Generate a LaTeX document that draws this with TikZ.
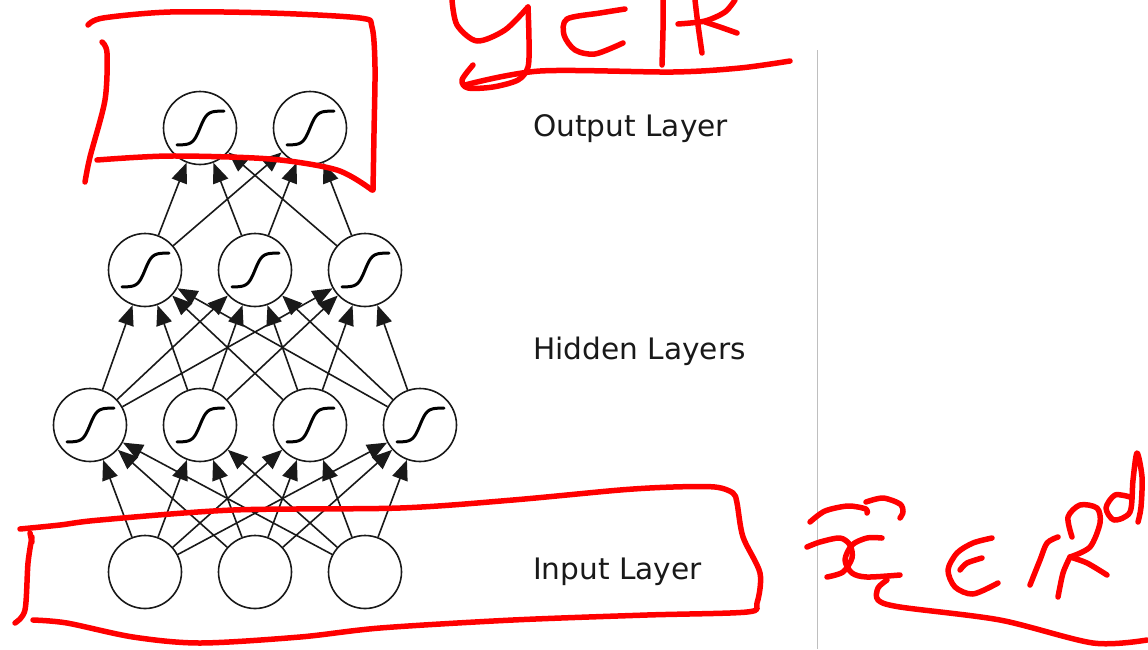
\documentclass[tikz,border=0pt]{standalone}
\usepackage{fontspec}
\setmainfont{DejaVu Sans}
\usetikzlibrary{arrows.meta}

\begin{document}
\begin{tikzpicture}[x=1pt, y=-1pt]
  \tikzstyle{neuron} = [circle, draw=black!90, line width=1.6pt, fill=white,
    minimum size=73pt, inner sep=0pt]
  \tikzstyle{conn} = [draw=black!90, line width=1.6pt, -{Triangle[length=20pt, width=16pt]}]
  \tikzstyle{sig} = [draw=black, line width=3pt, line cap=round]
  \tikzstyle{layer} = [anchor=west, inner sep=0pt, text=black!90,
    font=\fontsize{29.6}{34}\selectfont]
  \tikzstyle{ink} = [draw=red, line width=5.5pt, line cap=round, line join=round]

  \useasboundingbox (0,0) rectangle (1148,649);

  % Capa de entrada
  \foreach \i in {1,2,3}
    \node[neuron] (in\i) at (35+\i*110, 572) {};

  % Primera capa oculta
  \foreach \i in {1,...,4}
    \node[neuron] (ha\i) at (-20+\i*110, 425) {};

  % Segunda capa oculta
  \foreach \i in {1,2,3}
    \node[neuron] (hb\i) at (35+\i*110, 270) {};

  % Capa de salida
  \foreach \i in {1,2}
    \node[neuron] (out\i) at (90+\i*110, 128) {};

  % Conexiones
  \foreach \i in {1,2,3}
    \foreach \j in {1,...,4}
      \draw[conn] (in\i) -- (ha\j);
  \foreach \i in {1,...,4}
    \foreach \j in {1,2,3}
      \draw[conn] (ha\i) -- (hb\j);
  \foreach \i in {1,2,3}
    \foreach \j in {1,2}
      \draw[conn] (hb\i) -- (out\j);

  % Sigmoides
  \foreach \n in {ha1,ha2,ha3,ha4,hb1,hb2,hb3,out1,out2}
    \draw[sig, shift={(\n)}] plot[domain=-23:24, samples=40] (\x, {-17*tanh(\x/7)});

  % Etiquetas
  \node[layer] (lout) at (533,129) {Output Layer};
  \node[layer] (lhid) at (533,351) {Hidden Layers};
  \node[layer] (lin) at (533,572) {Input Layer};

  % Separador
  \draw[black!25, line width=1pt] (817,50) -- (817,649);

  % Anotaciones: caja de salida
  \draw[ink] plot[smooth] coordinates {(88,25) (103,18) (170,12) (270,13) (360,18) (372,27) (375,67) (374,133) (373,190)};
  \draw[ink] plot[smooth] coordinates {(102,42) (107,53) (105,100) (90,157) (85,182)};
  \draw[ink] plot[smooth] coordinates {(97,160) (170,156) (270,159) (337,170) (372,190)};

  % y en R
  \draw[ink] plot[smooth] coordinates {(452,0) (457,25) (477,41) (505,30) (528,7)};
  \draw[ink] plot[smooth] coordinates {(528,7) (529,40) (528,67) (518,80) (493,87) (468,88) (462,80) (473,65)};
  \draw[ink] plot[smooth] coordinates {(465,85) (540,71) (673,72) (740,68) (790,61)};
  \draw[ink] plot[smooth] coordinates {(625,9) (600,13) (567,19) (564,35) (575,50) (595,54) (623,43)};
  \draw[ink] plot[smooth] coordinates {(663,0) (663,30) (662,65)};
  \draw[ink] plot[smooth] coordinates {(695,0) (698,25) (702,53)};
  \draw[ink] plot[smooth] coordinates {(678,24) (705,21) (725,12) (735,0)};
  \draw[ink] plot[smooth] coordinates {(705,22) (720,27) (737,33)};

  % Anotaciones: caja de entrada
  \draw[ink] plot[smooth] coordinates {(30,533) (32,542)};
  \draw[ink] plot[smooth] coordinates {(32,537) (28,563) (25,610) (15,623)};
  \draw[ink] plot[smooth] coordinates {(20,529) (60,525) (100,520) (233,510) (400,508) (513,500) (620,490) (673,487) (715,487) (733,493) (737,503) (743,537) (760,573) (757,603) (747,612) (647,615) (513,620) (380,628) (300,637) (200,643) (133,637) (67,623) (33,620)};

  % x en R^d
  \draw[ink] plot[smooth] coordinates {(810,522) (825,511) (848,506) (866,509) (867,513)};
  \draw[ink] plot[smooth] coordinates {(866,502) (883,498) (900,504) (903,512) (900,518)};
  \draw[ink] plot[smooth] coordinates {(807,547) (820,542) (840,538) (850,545) (852,558) (843,572) (827,577)};
  \draw[ink] plot[smooth] coordinates {(882,538) (867,538) (852,545) (845,560) (852,573) (867,577) (900,575)};
  \draw[ink] plot[smooth] coordinates {(992,538) (973,543) (957,553) (948,570) (955,587) (973,594) (998,583)};
  \draw[ink] plot[smooth] coordinates {(982,558) (967,563) (960,570)};
  \draw[ink] plot[smooth] coordinates {(1058,537) (1047,543) (1040,560) (1030,585)};
  \draw[ink] plot[smooth] coordinates {(1072,537) (1068,517) (1080,505) (1097,508) (1100,523) (1090,547) (1070,557)};
  \draw[ink] plot[smooth] coordinates {(1070,557) (1063,573) (1058,597)};
  \draw[ink] plot[smooth] coordinates {(1070,557) (1087,563) (1107,575)};
  \draw[ink] plot[smooth] coordinates {(1130,497) (1115,495) (1106,508) (1114,520) (1130,512) (1133,480) (1137,453) (1142,477) (1141,507) (1138,522)};
  \draw[ink] plot[smooth] coordinates {(887,580) (878,588) (878,600) (900,607) (1000,620) (1093,643) (1147,640)};
\end{tikzpicture}
\end{document}
